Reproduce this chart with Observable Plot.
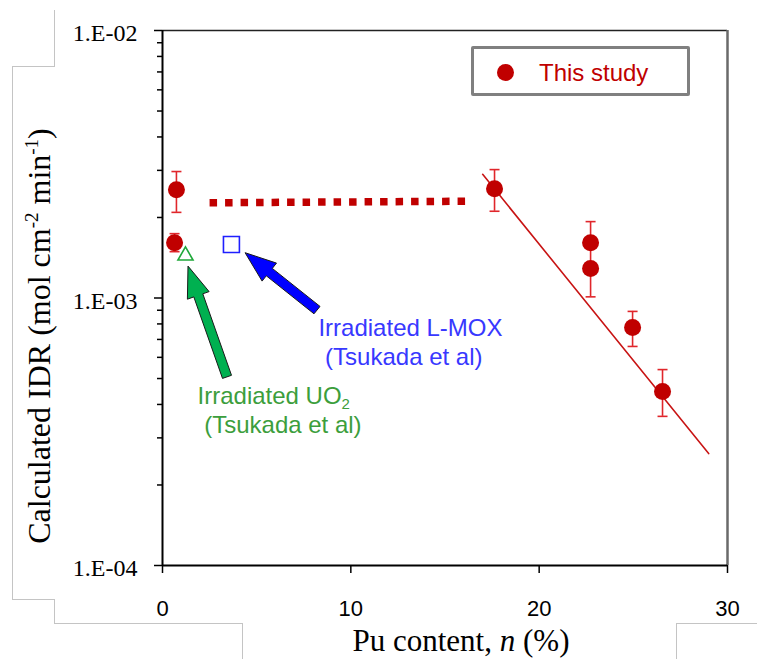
<!DOCTYPE html>
<html>
<head>
<meta charset="utf-8">
<script src="https://cdn.jsdelivr.net/npm/d3@7"></script>
<script src="https://cdn.jsdelivr.net/npm/@observablehq/plot@0.6"></script>
<style>
  html, body { margin: 0; padding: 0; background: #fff; }
  #wrap { position: relative; width: 757px; height: 659px; overflow: hidden; background: #fff; }
  .crop { position: absolute; box-sizing: border-box; border: 0 solid #c4c4c4; pointer-events: none; }
  #legend { position: absolute; left: 471px; top: 46px; width: 219px; height: 50px; box-sizing: border-box;
            border: 3px solid #808080; border-radius: 2px; background: #fff;
            font-family: "Liberation Sans", Arial, sans-serif; font-size: 24px; color: #c00000; }
  #legend .sw { position: absolute; left: 23px; top: 15px; width: 17px; height: 17px; border-radius: 50%; background: #c00000; }
  #legend .lb { position: absolute; left: 65px; top: 10px; line-height: 28px; white-space: nowrap; }
</style>
</head>
<body>
<div id="wrap">
  <div id="chart"></div>
  <div class="crop" style="left:54px;top:10px;width:1px;height:56px;border-left-width:1px;"></div>
  <div class="crop" style="left:12px;top:66px;width:43px;height:534px;border-top-width:1px;border-left-width:1px;"></div>
  <div class="crop" style="left:12px;top:599px;width:43px;height:25px;border-top-width:1px;border-right-width:1px;"></div>
  <div class="crop" style="left:54px;top:623px;width:189px;height:40px;border-top-width:1px;border-right-width:1px;"></div>
  <div class="crop" style="left:676px;top:623px;width:90px;height:40px;border-top-width:1px;border-left-width:1px;"></div>
  <div id="legend"><span class="sw"></span><span class="lb">This study</span></div>
</div>
<script>
// ---- Data ----
// "This study" measurements: Pu content n (%) and calculated IDR (mol cm-2 min-1)
const studyN   = [0.74, 0.64, 17.63, 22.73, 22.73, 24.96, 26.55];
const studyIDR = [2.54e-3, 1.61e-3, 2.56e-3, 1.61e-3, 1.29e-3, 7.76e-4, 4.47e-4];

// Error bars
const errN    = [0.74, 0.64, 17.63, 22.73, 24.96, 26.55];
const errLow  = [2.09e-3, 1.49e-3, 2.11e-3, 1.01e-3, 6.59e-4, 3.61e-4];
const errHigh = [2.97e-3, 1.74e-3, 3.02e-3, 1.93e-3, 8.91e-4, 5.40e-4];

// Fitted trend line (solid) and flat dotted line
const fitN     = [17.0, 29.0];
const fitIDR   = [2.90e-3, 2.62e-4];
const flatN    = [2.5, 16.1];
const flatIDR  = [2.27e-3, 2.30e-3];

// Tsukada et al. reference points
const uo2N   = [1.22];
const uo2IDR = [1.44e-3];
const lmoxN   = [3.66];
const lmoxIDR = [1.585e-3];

// Annotation arrows (tail -> tip), in data units
const arrowTailN   = [3.45, 8.23];
const arrowTailIDR = [5.05e-4, 8.97e-4];
const arrowTipN    = [1.38, 4.41];
const arrowTipIDR  = [1.31e-3, 1.47e-3];
const arrowFill    = ["#00b050", "#0000ff"];

// Annotation labels
const lmoxLines = ["Irradiated L-MOX", "\u00a0(Tsukada et al)"];
const lmoxLineN = [8.28, 8.28];
const lmoxLineIDR = [7.72e-4, 6.01e-4];
const uo2Lines = ["Irradiated UO\u2082", "\u00a0(Tsukada et al)"];
const uo2LineN = [1.86, 1.86];
const uo2LineIDR = [4.30e-4, 3.35e-4];

// Ticks
const xTicks = [0, 10, 20, 30];
const xTickLabels = ["0", "10", "20", "30"];
const yTickValues = [1e-4, 1e-3, 1e-2];
const yTickLabels = ["1.E-04", "1.E-03", "1.E-02"];
const minorMultipliers = [2, 3, 4, 5, 6, 7, 8, 9];
const minorTicks = [1e-4, 1e-3].flatMap(d => minorMultipliers.map(m => m * d));

// ---- Build tables ----
const study = studyN.map((n, i) => ({n, v: studyIDR[i]}));
const errs = errN.map((n, i) => ({n, lo: errLow[i], hi: errHigh[i]}));
const fit = fitN.map((n, i) => ({n, v: fitIDR[i]}));
const flat = flatN.map((n, i) => ({n, v: flatIDR[i]}));
const uo2 = uo2N.map((n, i) => ({n, v: uo2IDR[i]}));
const lmox = lmoxN.map((n, i) => ({n, v: lmoxIDR[i]}));
const lmoxText = lmoxLines.map((t, i) => ({t, n: lmoxLineN[i], v: lmoxLineIDR[i]}));
const uo2Text = uo2Lines.map((t, i) => ({t, n: uo2LineN[i], v: uo2LineIDR[i]}));
const yLab = yTickValues.map((v, i) => ({v, t: yTickLabels[i]}));
const xLab = xTicks.map((n, i) => ({n, t: xTickLabels[i]}));

const capSymbol = { draw(ctx) { ctx.moveTo(-5, 0); ctx.lineTo(5, 0); } };
const RED = "#c00000", ERR = "#e0262b";

const chart = Plot.plot({
  width: 757,
  height: 659,
  marginLeft: 162,
  marginRight: 30,
  marginTop: 30,
  marginBottom: 94,
  style: { background: "#fff", overflow: "visible" },
  x: { type: "linear", domain: [0, 30] },
  y: { type: "log", domain: [1e-4, 1e-2] },
  marks: [
    Plot.ruleY([1e-2], { stroke: "#222", strokeWidth: 1.6 }),
    Plot.ruleX([30], { stroke: "#6a6a6a", strokeWidth: 2.5 }),
    Plot.ruleX([0], { stroke: "#000", strokeWidth: 2 }),
    Plot.ruleY([1e-4], { stroke: "#000", strokeWidth: 2 }),
    Plot.axisY(minorTicks, { tickSize: 5, tickFormat: () => "", strokeWidth: 1.5, stroke: "#000", label: null }),
    Plot.axisY(yTickValues, { tickSize: 8, tickFormat: () => "", strokeWidth: 1.5, stroke: "#000", label: null }),
    Plot.axisX(xTicks, { tickSize: 8, tickFormat: () => "", strokeWidth: 1.5, stroke: "#000", label: null }),
    Plot.text(yLab, { y: "v", text: "t", frameAnchor: "left", textAnchor: "end", lineAnchor: "middle",
      dx: -25, dy: 3, fill: "#000", fontSize: 24, fontFamily: "Liberation Serif" }),
    Plot.text(xLab, { x: "n", text: "t", frameAnchor: "bottom", textAnchor: "middle", lineAnchor: "top",
      dy: 35, fill: "#000", fontSize: 22, fontFamily: "Liberation Sans" }),
    Plot.line(flat, { x: "n", y: "v", stroke: RED, strokeWidth: 7.5, strokeDasharray: "7.5,8", strokeLinecap: "butt" }),
    Plot.line(fit, { x: "n", y: "v", stroke: "#c81414", strokeWidth: 1.6 }),
    Plot.ruleX(errs, { x: "n", y1: "lo", y2: "hi", stroke: ERR, strokeWidth: 1.6 }),
    Plot.dot(errs, { x: "n", y: "lo", symbol: capSymbol, r: 5, fill: "none", stroke: ERR, strokeWidth: 1.6 }),
    Plot.dot(errs, { x: "n", y: "hi", symbol: capSymbol, r: 5, fill: "none", stroke: ERR, strokeWidth: 1.6 }),
    Plot.dot(study, { x: "n", y: "v", r: 8.5, fill: RED, stroke: "none" }),
    Plot.dot(uo2, { x: "n", y: "v", symbol: "triangle", r: 5.6, fill: "#fff", stroke: "#1fa83a", strokeWidth: 1.6 }),
    Plot.dot(lmox, { x: "n", y: "v", symbol: "square", r: 9, fill: "#fff", stroke: "#1f1fff", strokeWidth: 1.6 }),
    Plot.text(lmoxText, { x: "n", y: "v", text: "t", textAnchor: "start", fill: "#3838ff",
      fontSize: 24, fontFamily: "Liberation Sans" }),
    Plot.text(uo2Text, { x: "n", y: "v", text: "t", textAnchor: "start", fill: "#3c9e3c",
      fontSize: 24, fontFamily: "Liberation Sans" })
  ]
});

document.getElementById("chart").appendChild(chart);

const svg = d3.select(chart);
const X = chart.scale("x"), Y = chart.scale("y");
const xs = d3.scaleLinear(X.domain, X.range);
const ys = d3.scaleLog(Y.domain, Y.range);

// Subscript for UO2
svg.selectAll("text").each(function () {
  if (this.textContent.includes("\u2082")) {
    const s = this.textContent.replace("\u2082", "");
    const t = d3.select(this);
    t.text(s);
    t.append("tspan").attr("dy", "5").attr("font-size", "15px").text("2");
  }
});

// Block arrows
function blockArrow(x0, y0, x1, y1, shaft, headW, headL) {
  const dx = x1 - x0, dy = y1 - y0, L = Math.hypot(dx, dy);
  const ux = dx / L, uy = dy / L, nx = -uy, ny = ux;
  const bx = x1 - ux * headL, by = y1 - uy * headL;
  const p = [
    [x0 + nx * shaft / 2, y0 + ny * shaft / 2],
    [bx + nx * shaft / 2, by + ny * shaft / 2],
    [bx + nx * headW / 2, by + ny * headW / 2],
    [x1, y1],
    [bx - nx * headW / 2, by - ny * headW / 2],
    [bx - nx * shaft / 2, by - ny * shaft / 2],
    [x0 - nx * shaft / 2, y0 - ny * shaft / 2]
  ];
  return "M" + p.map(q => q[0].toFixed(1) + "," + q[1].toFixed(1)).join("L") + "Z";
}
const ga = svg.append("g").attr("aria-label", "arrows");
arrowTailN.forEach((n, i) => {
  ga.append("path")
    .attr("d", blockArrow(xs(n), ys(arrowTailIDR[i]), xs(arrowTipN[i]), ys(arrowTipIDR[i]), 9.5, 23, 31))
    .attr("fill", arrowFill[i])
    .attr("stroke", "#1a1a1a")
    .attr("stroke-width", 1)
    .attr("stroke-linejoin", "miter");
});

// Y axis title
const yl = svg.append("text")
  .attr("transform", "translate(50,336) rotate(-90)")
  .attr("text-anchor", "middle")
  .attr("font-family", "Liberation Serif")
  .attr("font-size", 32)
  .attr("fill", "#000");
yl.append("tspan").text("Calculated IDR (mol cm");
yl.append("tspan").attr("dy", "-12").attr("font-size", 19).text("-2");
yl.append("tspan").attr("dy", "12").text(" min");
yl.append("tspan").attr("dy", "-12").attr("font-size", 19).text("-1");
yl.append("tspan").attr("dy", "12").text(")");

// X axis title
const xl = svg.append("text")
  .attr("x", 461).attr("y", 651)
  .attr("text-anchor", "middle")
  .attr("font-family", "Liberation Serif")
  .attr("font-size", 31)
  .attr("fill", "#000");
xl.append("tspan").text("Pu content, ");
xl.append("tspan").attr("font-style", "italic").text("n");
xl.append("tspan").text(" (%)");
</script>
</body>
</html>
